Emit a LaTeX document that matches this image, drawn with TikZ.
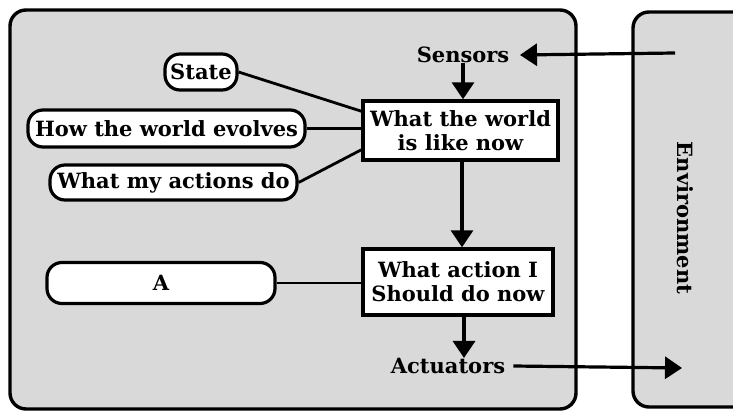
\documentclass[tikz,border=0pt]{standalone}
\usepackage{fontspec}
\setmainfont{DejaVu Serif}
\usetikzlibrary{arrows.meta,calc}
\begin{document}
\begin{tikzpicture}[x=1pt,y=-1pt,
  every node/.style={font=\fontsize{21}{24}\selectfont\bfseries, inner sep=0pt},
  panel/.style={draw=black, line width=3.4pt, fill=black!15, rounded corners=16pt},
  pill/.style={draw=black, line width=3.2pt, fill=white, rounded corners=15pt},
  boxn/.style={draw=black, line width=3.4pt, fill=white, align=center},
  conn/.style={line width=2.8pt},
  arr/.style={line width=3.2pt, -{Triangle[width=22pt,length=17pt]}}
]
\useasboundingbox (0,0) rectangle (733,411);
\begin{scope}
\clip (0,0) rectangle (733,411);
\draw[panel] (10,10) rectangle (576,409);
\draw[panel] (633,12) rectangle (780,407);
\end{scope}
\node (env) at (685,218) [rotate=-90] {Environment};
\node (sens) at (463,55) {Sensors};
\node (act) at (448,366) {Actuators};
\node[boxn, minimum width=195pt, minimum height=59pt] (w) at (460.5,130.5) {What the world\\is like now};
\node[boxn, minimum width=190pt, minimum height=66pt] (d) at (458,282) {What action I\\Should do now};
\node[pill, minimum width=72pt, minimum height=36pt] (st) at (201,72) {State};
\node[pill, minimum width=277pt, minimum height=37pt] (ev) at (166.5,128.5) {How the world evolves};
\node[pill, minimum width=247pt, minimum height=35pt] (ad) at (173.5,182.5) {What my actions do};
\node[pill, minimum width=228pt, minimum height=41pt] (a) at (161,283) {A};
\coordinate (ein) at (675,53);
\coordinate (eout) at (682,368);
\coordinate (wd) at (462,0);
\coordinate (da) at (464,0);
\draw[conn] (st.east) -- (w.169);
\draw[conn] (ev.east) -- (ev.east -| w.west);
\draw[conn] (ad.east) -- (w.191);
\draw[conn] (a.east) -- (a.east -| d.west);
\draw[arr] (ein) -- (sens.east -| 520,0);
\draw[arr] (sens.south) -- (sens.south |- w.north);
\draw[arr] (wd |- w.south) -- (wd |- d.north);
\draw[arr] (da |- d.south) -- (da |- act.north);
\draw[arr] (act.east) ++(8,0) coordinate (aout) (aout) -- (eout);
\end{tikzpicture}
\end{document}
